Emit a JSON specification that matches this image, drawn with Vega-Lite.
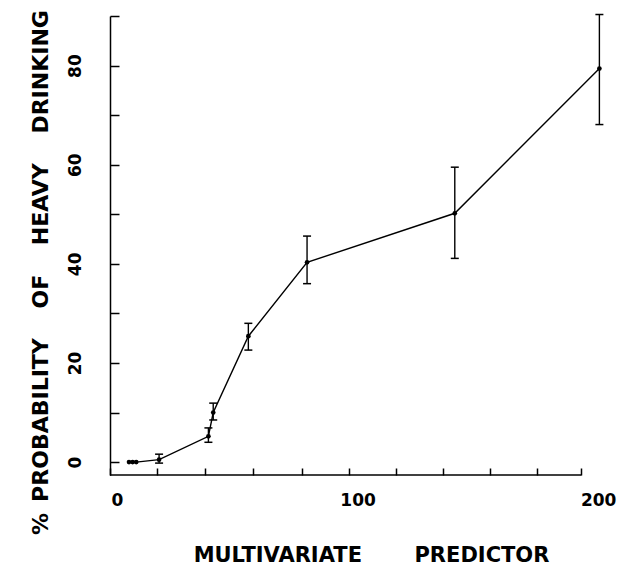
{
  "$schema": "https://vega.github.io/schema/vega-lite/v6.json",
  "width": 493,
  "height": 459,
  "autosize": "none",
  "padding": {"left": 110, "top": 16, "right": 30, "bottom": 92},
  "background": "white",
  "config": {
    "view": {"stroke": null},
    "axis": {
      "grid": false,
      "domainColor": "black",
      "domainWidth": 1.5,
      "tickColor": "black",
      "tickWidth": 1.5,
      "labelColor": "black",
      "labelFont": "DejaVu Sans",
      "labelFontWeight": "bold",
      "labelFontSize": 17,
      "titleColor": "black",
      "titleFont": "DejaVu Sans",
      "titleFontWeight": "bold",
      "titleFontSize": 21
    }
  },
  "datasets": {
    "pts": [
      {"x": 5, "y": 0},
      {"x": 6.5, "y": 0},
      {"x": 8, "y": 0},
      {"x": 17.5, "y": 0.5, "lo": -0.2, "hi": 1.6},
      {"x": 38, "y": 5.2, "lo": 4.0, "hi": 6.9},
      {"x": 40, "y": 10, "lo": 8.5, "hi": 11.9},
      {"x": 54.6, "y": 25.4, "lo": 22.6, "hi": 28},
      {"x": 79, "y": 40.3, "lo": 36, "hi": 45.6},
      {"x": 140.4, "y": 50.2, "lo": 41.1, "hi": 59.5},
      {"x": 200.5, "y": 79.4, "lo": 68.1, "hi": 90.3}
    ]
  },
  "resolve": {"axis": {"x": "independent"}},
  "layer": [
    {
      "data": {"values": [{}]},
      "mark": {"type": "rule", "color": "black", "strokeWidth": 1.5},
      "encoding": {
        "x": {"datum": -2.9, "type": "quantitative", "axis": null},
        "x2": {"datum": 193},
        "y": {"datum": -2.6, "type": "quantitative"}
      }
    },
    {
      "data": {"name": "pts"},
      "mark": {"type": "line", "color": "black", "strokeWidth": 1.4},
      "encoding": {
        "x": {
          "field": "x",
          "type": "quantitative",
          "scale": {"domain": [-2.9, 202], "nice": false, "zero": false},
          "axis": {
            "orient": "bottom",
            "values": [-2.9, 16.6, 36.6, 56.5, 76.7, 96.3, 115.9, 135.5, 155.1, 174.6, 193],
            "domain": false,
            "labels": false,
            "tickSize": -7,
            "title": null
          }
        },
        "y": {
          "field": "y",
          "type": "quantitative",
          "scale": {"domain": [-2.6, 90], "nice": false, "zero": false},
          "axis": {
            "values": [0, 10, 20, 30, 40, 50, 60, 70, 80, 90],
            "tickSize": -9,
            "labelExpr": "datum.value % 20 == 0 && datum.value < 90 ? datum.label : ''",
            "labelOverlap": false,
            "labelAngle": 270,
            "labelAlign": "center",
            "labelBaseline": "middle",
            "labelPadding": 44,
            "title": "%\u2002PROBABILITY\u2003 OF\u2003 HEAVY\u2003 DRINKING",
            "titleFontSize": 22,
            "titleAngle": 270,
            "titleX": -70,
            "titleY": 256,
            "titleAlign": "center",
            "titleBaseline": "middle"
          }
        }
      }
    },
    {
      "data": {"name": "pts"},
      "transform": [{"filter": "isValid(datum.lo)"}],
      "mark": {"type": "rule", "color": "black", "strokeWidth": 1.4},
      "encoding": {
        "x": {"field": "x", "type": "quantitative", "axis": null},
        "y": {"field": "lo", "type": "quantitative"},
        "y2": {"field": "hi"}
      }
    },
    {
      "data": {"name": "pts"},
      "transform": [{"filter": "isValid(datum.lo)"}],
      "mark": {"type": "tick", "color": "black", "orient": "horizontal", "size": 8, "thickness": 1.5, "opacity": 1},
      "encoding": {
        "x": {"field": "x", "type": "quantitative", "axis": null},
        "y": {"field": "lo", "type": "quantitative"}
      }
    },
    {
      "data": {"name": "pts"},
      "transform": [{"filter": "isValid(datum.hi)"}],
      "mark": {"type": "tick", "color": "black", "orient": "horizontal", "size": 8, "thickness": 1.5, "opacity": 1},
      "encoding": {
        "x": {"field": "x", "type": "quantitative", "axis": null},
        "y": {"field": "hi", "type": "quantitative"}
      }
    },
    {
      "data": {"name": "pts"},
      "mark": {"type": "circle", "color": "black", "size": 22, "opacity": 1},
      "encoding": {
        "x": {
          "field": "x",
          "type": "quantitative",
          "axis": {
            "orient": "bottom",
            "values": [0, 100, 200],
            "domain": false,
            "ticks": false,
            "labelFlush": false,
            "labelOverlap": false,
            "labelPadding": 17,
            "title": "MULTIVARIATE\u2003\u2003\u2002PREDICTOR",
            "titleX": 261,
            "titleY": 80,
            "titleAlign": "center",
            "titleBaseline": "middle"
          }
        },
        "y": {"field": "y", "type": "quantitative"}
      }
    }
  ]
}
